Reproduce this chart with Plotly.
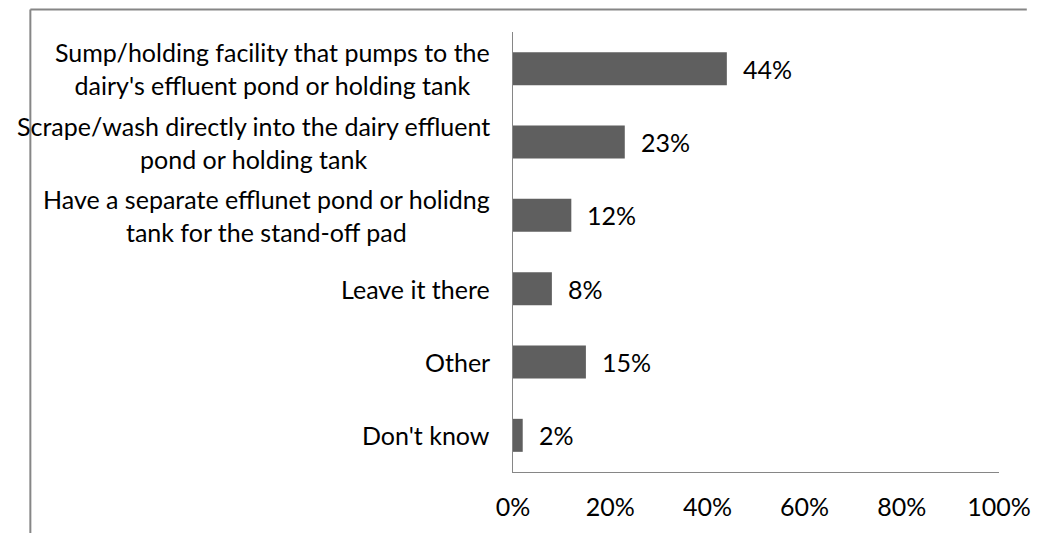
import plotly.graph_objects as go

categories = [
    "Sump/holding facility that pumps to the<br>dairy's effluent pond or holding tank",
    "Scrape/wash directly into the dairy effluent<br>pond or holding tank",
    "Have a separate efflunet pond or holidng<br>tank for the stand-off pad",
    "Leave it there",
    "Other",
    "Don't know",
]
values = [44, 23, 12, 8, 15, 2]
tick_vals = [0, 20, 40, 60, 80, 100]
tick_text = ["0%", "20%", "40%", "60%", "80%", "100%"]

FONT = "Lato"
FS = 25

fig = go.Figure()
fig.add_trace(go.Bar(
    x=values, y=categories, orientation="h",
    marker=dict(color="#5f5f5f", line=dict(width=0)),
    hoverinfo="skip",
))

annotations = []
for c, v in zip(categories, values):
    annotations.append(dict(x=v, y=c, xref="x", yref="y", text=f"{v}%",
                            showarrow=False, xanchor="left", xshift=14,
                            font=dict(family=FONT, size=FS, color="black")))
    annotations.append(dict(x=0, y=c, xref="paper", yref="y", text=c,
                            showarrow=False, xanchor="right", xshift=-21,
                            align="center",
                            font=dict(family=FONT, size=FS, color="black")))

# the page body keeps its default 8px margin; the figure is placed inside it
OFF = 8
W, H = 1051 - 2 * OFF, 541 - 2 * OFF
L, T = 513 - OFF, 32 - OFF
R = W - (1020 - OFF)
B = H - (472 - OFF)
pw, ph = W - L - R, H - T - B
def px_x(p):
    return (p - OFF - L) / pw
def px_y(p):
    return (H - B - (p - OFF)) / ph

border = dict(color="#868686", width=2)
fig.update_layout(
    width=W, height=H,
    margin=dict(l=L, r=R, t=T, b=B),
    paper_bgcolor="white", plot_bgcolor="white",
    showlegend=False,
    bargap=0.55,
    font=dict(family=FONT, size=FS, color="black"),
    xaxis=dict(range=[0, 100], tickvals=tick_vals, ticktext=tick_text,
               showgrid=False, zeroline=False, showline=True,
               linecolor="#868686", linewidth=1, ticks="",
               ticklabelstandoff=13, ticklabeloverflow="allow",
               tickfont=dict(family=FONT, size=FS, color="black"), fixedrange=True),
    yaxis=dict(autorange="reversed", showticklabels=False, showgrid=False,
               zeroline=False, showline=True, linecolor="#868686", linewidth=1,
               ticks="", fixedrange=True),
    annotations=annotations,
    shapes=[
        dict(type="line", xref="paper", yref="paper",
             x0=px_x(9.5), x1=px_x(1049), y0=px_y(9.5), y1=px_y(9.5),
             line=border, layer="below"),
        dict(type="line", xref="paper", yref="paper",
             x0=px_x(9.5), x1=px_x(9.5), y0=px_y(9.5), y1=px_y(539),
             line=border, layer="below"),
    ],
)

fig.write_html(
    "out.html",
    config={"displayModeBar": False},
    post_script=(
        "document.querySelectorAll('.main-svg').forEach(function(s){"
        "s.style.overflow='visible';});"
    ),
)
